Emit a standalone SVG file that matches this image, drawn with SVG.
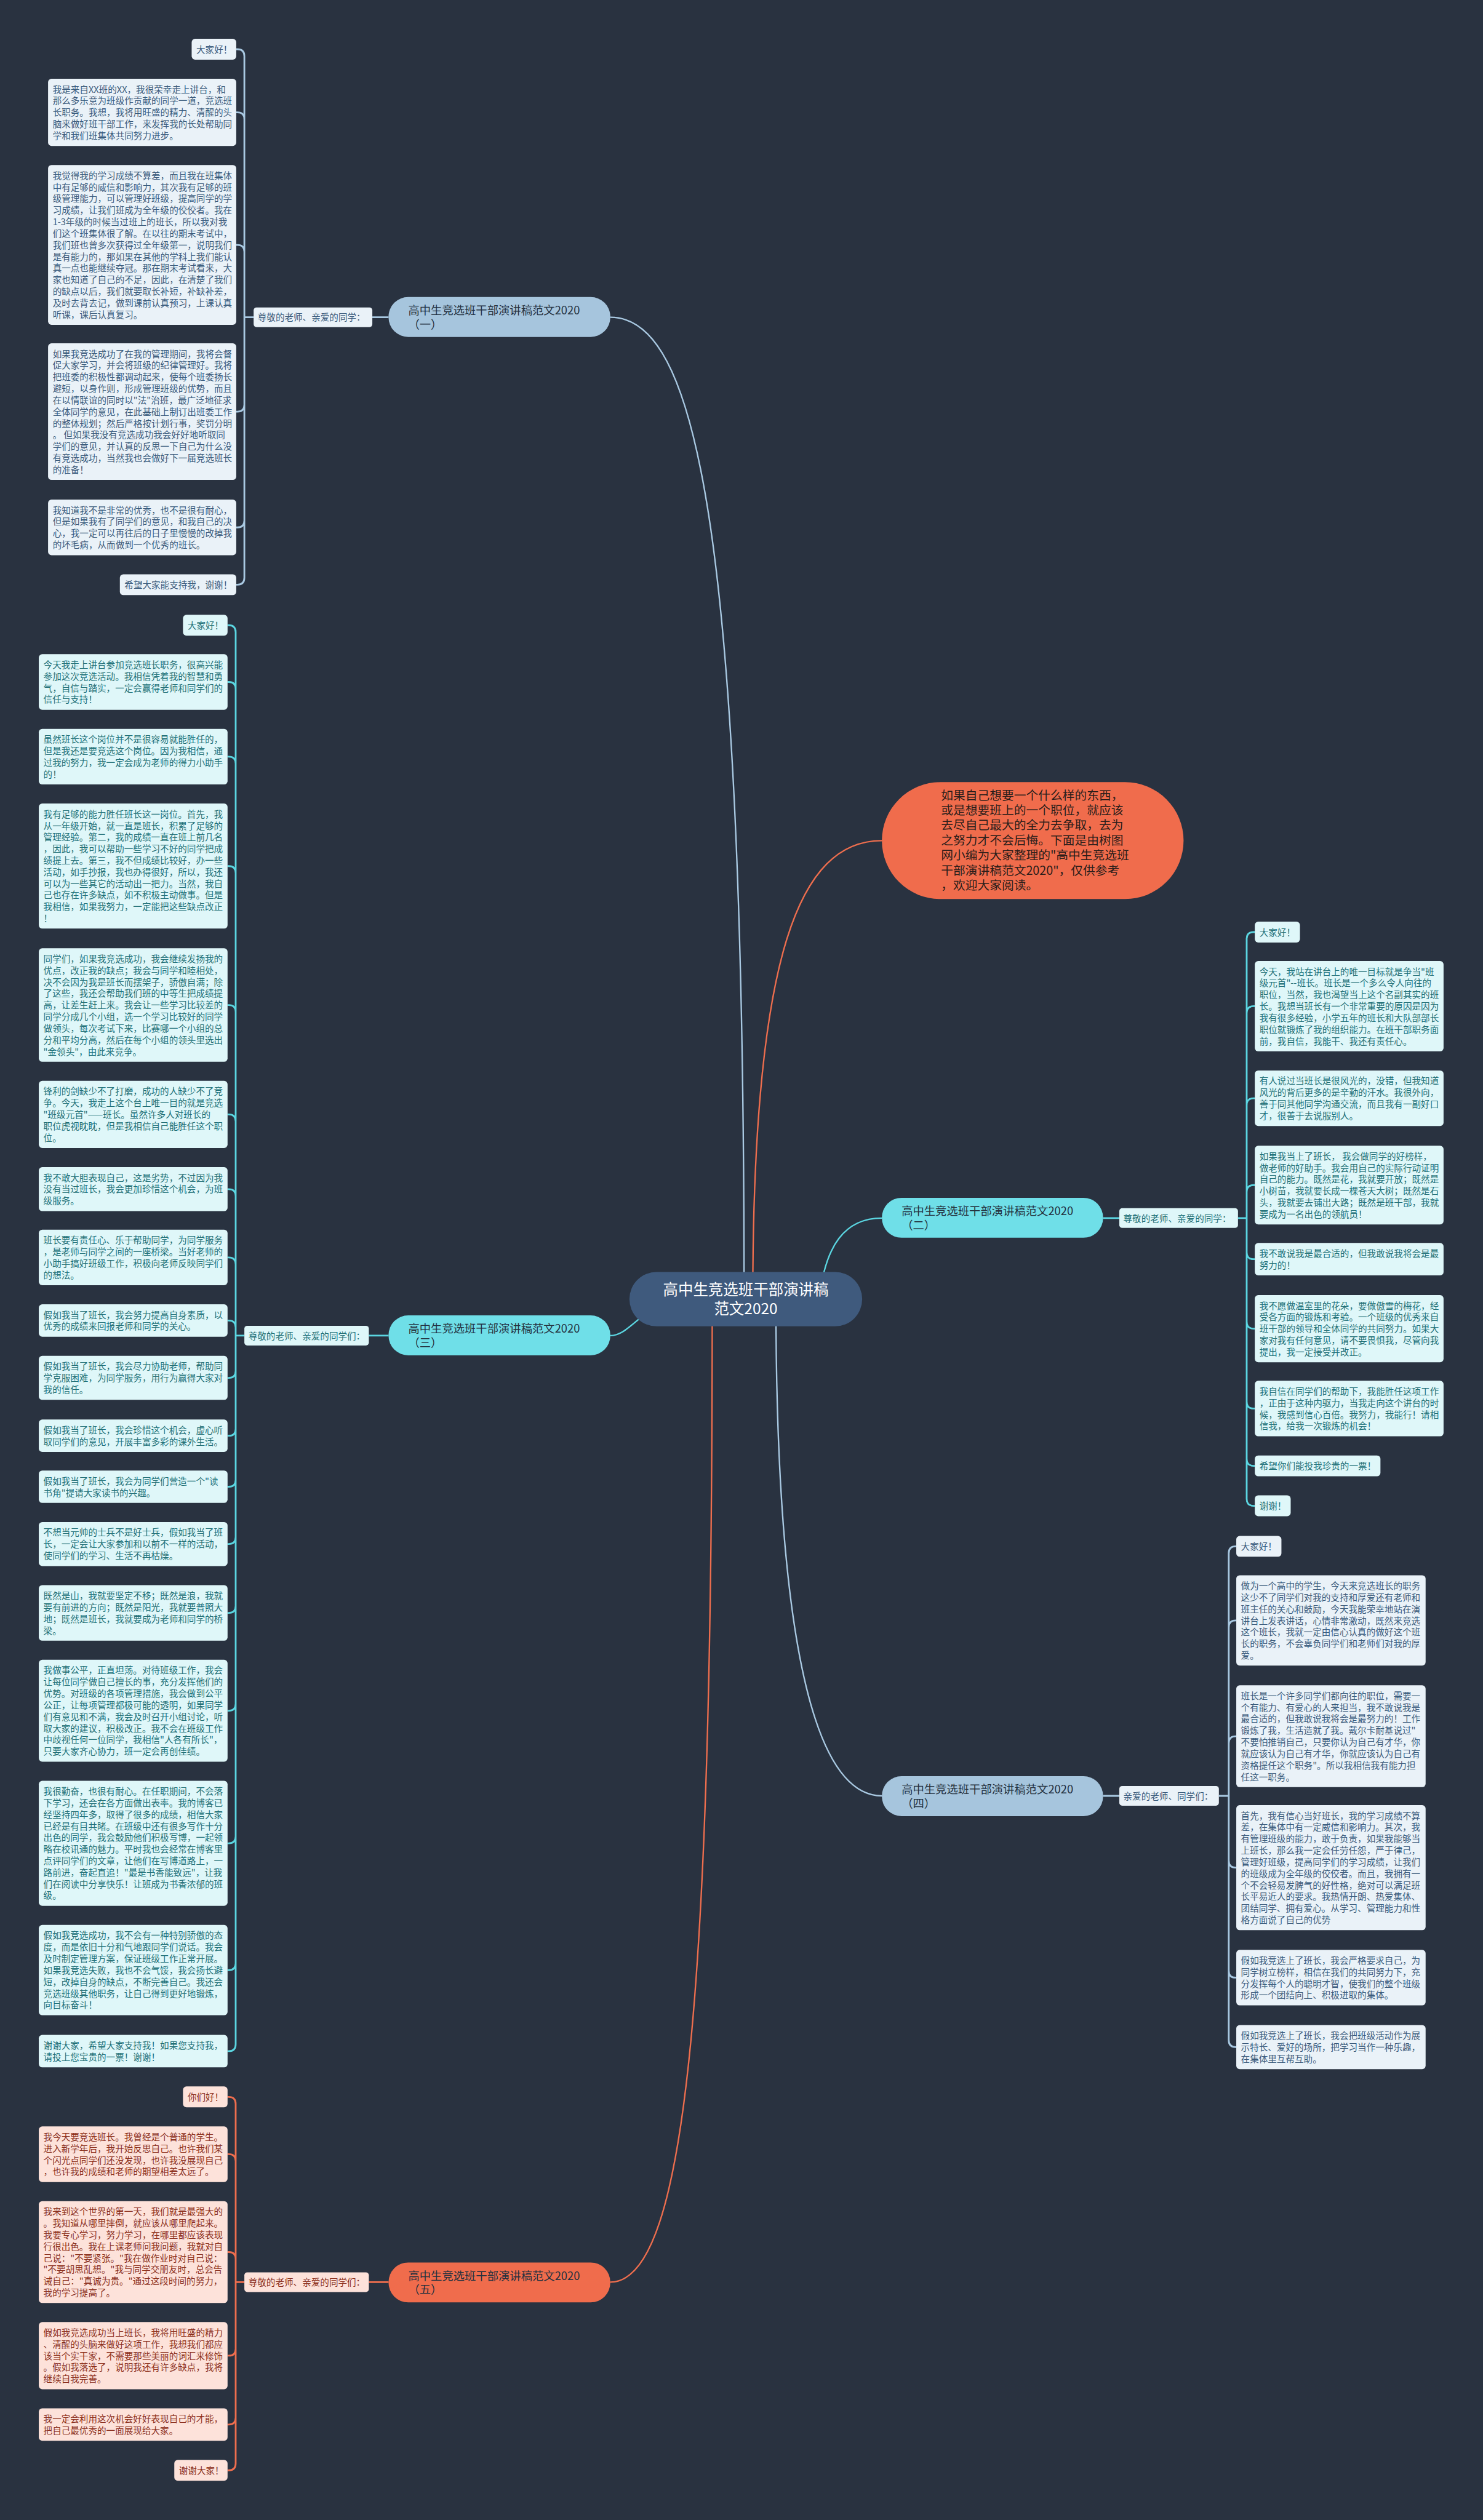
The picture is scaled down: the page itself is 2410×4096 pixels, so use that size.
<svg xmlns="http://www.w3.org/2000/svg" width="2410" height="4096" viewBox="0 0 2410 4096">
<style>
.t{font-family:"Noto Sans CJK SC","Noto Sans",sans-serif;font-size:15.5px}
.r1{fill:#eaf2f8}.r2{fill:#dff7f9}.r5{fill:#fde2da}
.t1{fill:#3a5b7c}.t2{fill:#217077}.t5{fill:#8b2f1c}
.c1{fill:none;stroke:#a9c9e2;stroke-width:3}
.c2{fill:none;stroke:#5bd6e1;stroke-width:3}
.c5{fill:none;stroke:#ee6e4e;stroke-width:3}
.m{fill:none;stroke-width:2.5}
.bn{font-family:"Noto Sans CJK SC","Noto Sans",sans-serif;font-size:19.5px;fill:#24313f}
</style>
<rect x="0" y="0" width="2410" height="4096" fill="#293240"/>
<g transform="scale(0.941)">
<g id="connectors">
<path class="m" stroke="#a9c9e2" d="M1054 548C1200 548 1285 900 1285 2244"/>
<path class="m" stroke="#ee6e4e" d="M1523 1452C1380 1452 1300 1650 1300 2244"/>
<path class="m" stroke="#5bd6e1" d="M1523 2104C1460 2104 1425 2150 1415 2244"/>
<path class="m" stroke="#5bd6e1" d="M1054 2307C1090 2307 1110 2250 1180 2244"/>
<path class="m" stroke="#a9c9e2" d="M1523 3102C1380 3102 1340 2700 1340 2244"/>
<path class="m" stroke="#ee6e4e" d="M1054 3942C1190 3942 1230 3400 1230 2244"/>
<path class="c1" d="M643 548H671M422 548H438M422 548V97Q422 85 410 85H408M422 548V206Q422 194 410 194H408M422 548V435Q422 423 410 423H408M422 548V699Q422 711 410 711H408M422 548V899Q422 911 410 911H408M422 548V998Q422 1010 410 1010H408"/>
<path class="c2" d="M637 2307H671M407 2307H422M407 2307V1092Q407 1080 395 1080H393M407 2307V1190Q407 1178 395 1178H393M407 2307V1319Q407 1307 395 1307H393M407 2307V1508Q407 1496 395 1496H393M407 2307V1748Q407 1736 395 1736H393M407 2307V1937Q407 1925 395 1925H393M407 2307V2066Q407 2054 395 2054H393M407 2307V2184Q407 2172 395 2172H393M407 2307V2293Q407 2281 395 2281H393M407 2307V2368Q407 2380 395 2380H393M407 2307V2468Q407 2480 395 2480H393M407 2307V2556Q407 2568 395 2568H393M407 2307V2655Q407 2667 395 2667H393M407 2307V2774Q407 2786 395 2786H393M407 2307V2943Q407 2955 395 2955H393M407 2307V3172Q407 3184 395 3184H393M407 2307V3391Q407 3403 395 3403H393M407 2307V3531Q407 3543 395 3543H393"/>
<path class="c5" d="M637 3942H671M407 3942H422M407 3942V3634Q407 3622 395 3622H393M407 3942V3733Q407 3721 395 3721H393M407 3942V3902Q407 3890 395 3890H393M407 3942V4057Q407 4069 395 4069H393M407 3942V4176Q407 4188 395 4188H393M407 3942V4255Q407 4267 395 4267H393"/>
<path class="c2" d="M1905 2104H1933M2138 2104H2153M2153 2104V1622Q2153 1610 2165 1610H2167M2153 2104V1750Q2153 1738 2165 1738H2167M2153 2104V1909Q2153 1897 2165 1897H2167M2153 2104V2059Q2153 2047 2165 2047H2167M2153 2104V2163Q2153 2175 2165 2175H2167M2153 2104V2283Q2153 2295 2165 2295H2167M2153 2104V2421Q2153 2433 2165 2433H2167M2153 2104V2520Q2153 2532 2165 2532H2167M2153 2104V2589Q2153 2601 2165 2601H2167"/>
<path class="c1" d="M1905 3102H1933M2105 3102H2122M2122 3102V2683Q2122 2671 2134 2671H2135M2122 3102V2811Q2122 2799 2134 2799H2135M2122 3102V3011Q2122 2999 2134 2999H2135M2122 3102V3214Q2122 3226 2134 3226H2135M2122 3102V3404Q2122 3416 2134 3416H2135M2122 3102V3524Q2122 3536 2134 3536H2135"/>
</g>

<g id="center"><rect x="1087" y="2197" width="402" height="94" rx="47" fill="#3f5a7d"/>
<text x="1288" y="2237" text-anchor="middle" font-family="Noto Sans CJK SC, Noto Sans, sans-serif" font-size="26" fill="#ffffff"><tspan x="1288">高中生竞选班干部演讲稿</tspan><tspan x="1288" dy="33">范文2020</tspan></text></g>

<g id="intro"><rect x="1523" y="1351" width="521" height="202" rx="101" fill="#f06c4c"/>
<text x="1625" y="1381" font-family="Noto Sans CJK SC, Noto Sans, sans-serif" font-size="21" fill="#2a1d1a"><tspan x="1625">如果自己想要一个什么样的东西，</tspan><tspan x="1625" dy="26">或是想要班上的一个职位，就应该</tspan><tspan x="1625" dy="26">去尽自己最大的全力去争取，去为</tspan><tspan x="1625" dy="26">之努力才不会后悔。下面是由树图</tspan><tspan x="1625" dy="26">网小编为大家整理的"高中生竞选班</tspan><tspan x="1625" dy="26">干部演讲稿范文2020"，仅供参考</tspan><tspan x="1625" dy="26">，欢迎大家阅读。</tspan></text></g>

<g id="node1"><rect x="671" y="513" width="383" height="69" rx="34" fill="#a6c5dd"/><text class="bn" x="705" y="543"><tspan x="705">高中生竞选班干部演讲稿范文2020</tspan><tspan x="705" dy="24">（一）</tspan></text></g>
<g id="node2"><rect x="1523" y="2069" width="382" height="69" rx="34" fill="#6fdfe8"/><text class="bn" x="1557" y="2099"><tspan x="1557">高中生竞选班干部演讲稿范文2020</tspan><tspan x="1557" dy="24">（二）</tspan></text></g>
<g id="node3"><rect x="671" y="2272" width="383" height="69" rx="34" fill="#6fdfe8"/><text class="bn" x="705" y="2302"><tspan x="705">高中生竞选班干部演讲稿范文2020</tspan><tspan x="705" dy="24">（三）</tspan></text></g>
<g id="node4"><rect x="1523" y="3068" width="382" height="69" rx="34" fill="#a6c5dd"/><text class="bn" x="1557" y="3098"><tspan x="1557">高中生竞选班干部演讲稿范文2020</tspan><tspan x="1557" dy="24">（四）</tspan></text></g>
<g id="node5"><rect x="671" y="3908" width="383" height="69" rx="34" fill="#f06c4c"/><text class="bn" x="705" y="3938"><tspan x="705">高中生竞选班干部演讲稿范文2020</tspan><tspan x="705" dy="24">（五）</tspan></text></g>

<g id="label1"><rect class="r1" x="438" y="531" width="205" height="34" rx="5"/><text class="t t1" x="445" y="554">尊敬的老师、亲爱的同学：</text></g>
<g id="label2"><rect class="r2" x="1933" y="2087" width="205" height="34" rx="5"/><text class="t t2" x="1940" y="2110">尊敬的老师、亲爱的同学：</text></g>
<g id="label3"><rect class="r2" x="422" y="2290" width="215" height="34" rx="5"/><text class="t t2" x="429" y="2313">尊敬的老师、亲爱的同学们：</text></g>
<g id="label4"><rect class="r1" x="1933" y="3085" width="172" height="34" rx="5"/><text class="t t1" x="1940" y="3108">亲爱的老师、同学们：</text></g>
<g id="label5"><rect class="r5" x="422" y="3925" width="215" height="34" rx="5"/><text class="t t5" x="429" y="3948">尊敬的老师、亲爱的同学们：</text></g>

<g id="b1-1"><rect class="r1" x="331" y="67" width="77" height="36" rx="6"/><text class="t t1" x="339" y="91">大家好！</text></g>
<g id="b1-2"><rect class="r1" x="83" y="136" width="325" height="116" rx="6"/><text class="t t1" x="91" y="160"><tspan x="91">我是来自XX班的XX，我很荣幸走上讲台，和</tspan><tspan x="91" dy="20">那么多乐意为班级作贡献的同学一道，竞选班</tspan><tspan x="91" dy="20">长职务。我想，我将用旺盛的精力、清醒的头</tspan><tspan x="91" dy="20">脑来做好班干部工作，来发挥我的长处帮助同</tspan><tspan x="91" dy="20">学和我们班集体共同努力进步。</tspan></text></g>
<g id="b1-3"><rect class="r1" x="83" y="285" width="325" height="276" rx="6"/><text class="t t1" x="91" y="309"><tspan x="91">我觉得我的学习成绩不算差，而且我在班集体</tspan><tspan x="91" dy="20">中有足够的威信和影响力，其次我有足够的班</tspan><tspan x="91" dy="20">级管理能力，可以管理好班级，提高同学的学</tspan><tspan x="91" dy="20">习成绩，让我们班成为全年级的佼佼者。我在</tspan><tspan x="91" dy="20">1-3年级的时候当过班上的班长，所以我对我</tspan><tspan x="91" dy="20">们这个班集体很了解。在以往的期末考试中，</tspan><tspan x="91" dy="20">我们班也曾多次获得过全年级第一，说明我们</tspan><tspan x="91" dy="20">是有能力的，那如果在其他的学科上我们能认</tspan><tspan x="91" dy="20">真一点也能继续夺冠。那在期末考试看来，大</tspan><tspan x="91" dy="20">家也知道了自己的不足，因此，在清楚了我们</tspan><tspan x="91" dy="20">的缺点以后，我们就要取长补短，补缺补差，</tspan><tspan x="91" dy="20">及时去背去记，做到课前认真预习，上课认真</tspan><tspan x="91" dy="20">听课，课后认真复习。</tspan></text></g>
<g id="b1-4"><rect class="r1" x="83" y="593" width="325" height="236" rx="6"/><text class="t t1" x="91" y="617"><tspan x="91">如果我竞选成功了在我的管理期间，我将会督</tspan><tspan x="91" dy="20">促大家学习，并会将班级的纪律管理好。我将</tspan><tspan x="91" dy="20">把班委的积极性都调动起来，使每个班委扬长</tspan><tspan x="91" dy="20">避短，以身作则，形成管理班级的优势，而且</tspan><tspan x="91" dy="20">在以情联谊的同时以"法"治班，最广泛地征求</tspan><tspan x="91" dy="20">全体同学的意见，在此基础上制订出班委工作</tspan><tspan x="91" dy="20">的整体规划；然后严格按计划行事，奖罚分明</tspan><tspan x="91" dy="20">。 但如果我没有竞选成功我会好好地听取同</tspan><tspan x="91" dy="20">学们的意见，并认真的反思一下自己为什么没</tspan><tspan x="91" dy="20">有竞选成功，当然我也会做好下一届竞选班长</tspan><tspan x="91" dy="20">的准备！</tspan></text></g>
<g id="b1-5"><rect class="r1" x="83" y="863" width="325" height="96" rx="6"/><text class="t t1" x="91" y="887"><tspan x="91">我知道我不是非常的优秀，也不是很有耐心，</tspan><tspan x="91" dy="20">但是如果我有了同学们的意见，和我自己的决</tspan><tspan x="91" dy="20">心，我一定可以再往后的日子里慢慢的改掉我</tspan><tspan x="91" dy="20">的坏毛病，从而做到一个优秀的班长。</tspan></text></g>
<g id="b1-6"><rect class="r1" x="207" y="992" width="201" height="36" rx="6"/><text class="t t1" x="215" y="1016">希望大家能支持我，谢谢！</text></g>

<g id="b2-1"><rect class="r2" x="2167" y="1592" width="78" height="36" rx="6"/><text class="t t2" x="2175" y="1616">大家好！</text></g>
<g id="b2-2"><rect class="r2" x="2167" y="1660" width="326" height="156" rx="6"/><text class="t t2" x="2175" y="1684"><tspan x="2175">今天，我站在讲台上的唯一目标就是争当"班</tspan><tspan x="2175" dy="20">级元首"--班长。班长是一个多么令人向往的</tspan><tspan x="2175" dy="20">职位，当然，我也渴望当上这个名副其实的班</tspan><tspan x="2175" dy="20">长。我想当班长有一个非常重要的原因是因为</tspan><tspan x="2175" dy="20">我有很多经验，小学五年的班长和大队部部长</tspan><tspan x="2175" dy="20">职位就锻炼了我的组织能力。在班干部职务面</tspan><tspan x="2175" dy="20">前，我自信，我能干、我还有责任心。</tspan></text></g>
<g id="b2-3"><rect class="r2" x="2167" y="1849" width="326" height="96" rx="6"/><text class="t t2" x="2175" y="1873"><tspan x="2175">有人说过当班长是很风光的，没错，但我知道</tspan><tspan x="2175" dy="20">风光的背后更多的是辛勤的汗水。我很外向，</tspan><tspan x="2175" dy="20">善于同其他同学沟通交流，而且我有一副好口</tspan><tspan x="2175" dy="20">才，很善于去说服别人。</tspan></text></g>
<g id="b2-4"><rect class="r2" x="2167" y="1979" width="326" height="136" rx="6"/><text class="t t2" x="2175" y="2003"><tspan x="2175">如果我当上了班长， 我会做同学的好榜样，</tspan><tspan x="2175" dy="20">做老师的好助手。我会用自己的实际行动证明</tspan><tspan x="2175" dy="20">自己的能力。既然是花，我就要开放；既然是</tspan><tspan x="2175" dy="20">小树苗，我就要长成一棵苍天大树；既然是石</tspan><tspan x="2175" dy="20">头，我就要去铺出大路；既然是班干部，我就</tspan><tspan x="2175" dy="20">要成为一名出色的领航员！</tspan></text></g>
<g id="b2-5"><rect class="r2" x="2167" y="2147" width="326" height="56" rx="6"/><text class="t t2" x="2175" y="2171"><tspan x="2175">我不敢说我是最合适的，但我敢说我将会是最</tspan><tspan x="2175" dy="20">努力的！</tspan></text></g>
<g id="b2-6"><rect class="r2" x="2167" y="2237" width="326" height="116" rx="6"/><text class="t t2" x="2175" y="2261"><tspan x="2175">我不愿做温室里的花朵，要做傲雪的梅花，经</tspan><tspan x="2175" dy="20">受各方面的锻炼和考验。一个班级的优秀来自</tspan><tspan x="2175" dy="20">班干部的领导和全体同学的共同努力。如果大</tspan><tspan x="2175" dy="20">家对我有任何意见，请不要畏惧我，尽管向我</tspan><tspan x="2175" dy="20">提出，我一定接受并改正。</tspan></text></g>
<g id="b2-7"><rect class="r2" x="2167" y="2385" width="326" height="96" rx="6"/><text class="t t2" x="2175" y="2409"><tspan x="2175">我自信在同学们的帮助下，我能胜任这项工作</tspan><tspan x="2175" dy="20">，正由于这种内驱力，当我走向这个讲台的时</tspan><tspan x="2175" dy="20">候，我感到信心百倍。我努力，我能行！请相</tspan><tspan x="2175" dy="20">信我，给我一次锻炼的机会！</tspan></text></g>
<g id="b2-8"><rect class="r2" x="2167" y="2514" width="217" height="36" rx="6"/><text class="t t2" x="2175" y="2538">希望你们能投我珍贵的一票！</text></g>
<g id="b2-9"><rect class="r2" x="2167" y="2583" width="62" height="36" rx="6"/><text class="t t2" x="2175" y="2607">谢谢！</text></g>

<g id="b3-1"><rect class="r2" x="316" y="1062" width="77" height="36" rx="6"/><text class="t t2" x="324" y="1086">大家好！</text></g>
<g id="b3-2"><rect class="r2" x="67" y="1130" width="326" height="96" rx="6"/><text class="t t2" x="75" y="1154"><tspan x="75">今天我走上讲台参加竞选班长职务，很高兴能</tspan><tspan x="75" dy="20">参加这次竞选活动。我相信凭着我的智慧和勇</tspan><tspan x="75" dy="20">气，自信与踏实，一定会赢得老师和同学们的</tspan><tspan x="75" dy="20">信任与支持！</tspan></text></g>
<g id="b3-3"><rect class="r2" x="67" y="1259" width="326" height="96" rx="6"/><text class="t t2" x="75" y="1283"><tspan x="75">虽然班长这个岗位并不是很容易就能胜任的，</tspan><tspan x="75" dy="20">但是我还是要竞选这个岗位。因为我相信，通</tspan><tspan x="75" dy="20">过我的努力，我一定会成为老师的得力小助手</tspan><tspan x="75" dy="20">的！</tspan></text></g>
<g id="b3-4"><rect class="r2" x="67" y="1388" width="326" height="216" rx="6"/><text class="t t2" x="75" y="1412"><tspan x="75">我有足够的能力胜任班长这一岗位。首先，我</tspan><tspan x="75" dy="20">从一年级开始，就一直是班长，积累了足够的</tspan><tspan x="75" dy="20">管理经验。第二，我的成绩一直在班上前几名</tspan><tspan x="75" dy="20">，因此，我可以帮助一些学习不好的同学把成</tspan><tspan x="75" dy="20">绩提上去。第三，我不但成绩比较好，办一些</tspan><tspan x="75" dy="20">活动，如手抄报，我也办得很好，所以，我还</tspan><tspan x="75" dy="20">可以为一些其它的活动出一把力。当然，我自</tspan><tspan x="75" dy="20">己也存在许多缺点，如不积极主动做事。但是</tspan><tspan x="75" dy="20">我相信，如果我努力，一定能把这些缺点改正</tspan><tspan x="75" dy="20">！</tspan></text></g>
<g id="b3-5"><rect class="r2" x="67" y="1638" width="326" height="196" rx="6"/><text class="t t2" x="75" y="1662"><tspan x="75">同学们，如果我竞选成功，我会继续发扬我的</tspan><tspan x="75" dy="20">优点，改正我的缺点；我会与同学和睦相处，</tspan><tspan x="75" dy="20">决不会因为我是班长而摆架子，骄傲自满；除</tspan><tspan x="75" dy="20">了这些，我还会帮助我们班的中等生把成绩提</tspan><tspan x="75" dy="20">高，让差生赶上来。我会让一些学习比较差的</tspan><tspan x="75" dy="20">同学分成几个小组，选一个学习比较好的同学</tspan><tspan x="75" dy="20">做领头，每次考试下来，比赛哪一个小组的总</tspan><tspan x="75" dy="20">分和平均分高，然后在每个小组的领头里选出</tspan><tspan x="75" dy="20">"金领头"，由此来竞争。</tspan></text></g>
<g id="b3-6"><rect class="r2" x="67" y="1867" width="326" height="116" rx="6"/><text class="t t2" x="75" y="1891"><tspan x="75">锋利的剑缺少不了打磨，成功的人缺少不了竞</tspan><tspan x="75" dy="20">争。今天，我走上这个台上唯一目的就是竞选</tspan><tspan x="75" dy="20">"班级元首"——班长。虽然许多人对班长的</tspan><tspan x="75" dy="20">职位虎视眈眈，但是我相信自己能胜任这个职</tspan><tspan x="75" dy="20">位。</tspan></text></g>
<g id="b3-7"><rect class="r2" x="67" y="2016" width="326" height="76" rx="6"/><text class="t t2" x="75" y="2040"><tspan x="75">我不敢大胆表现自己，这是劣势，不过因为我</tspan><tspan x="75" dy="20">没有当过班长，我会更加珍惜这个机会，为班</tspan><tspan x="75" dy="20">级服务。</tspan></text></g>
<g id="b3-8"><rect class="r2" x="67" y="2124" width="326" height="96" rx="6"/><text class="t t2" x="75" y="2148"><tspan x="75">班长要有责任心、乐于帮助同学，为同学服务</tspan><tspan x="75" dy="20">，是老师与同学之间的一座桥梁。当好老师的</tspan><tspan x="75" dy="20">小助手搞好班级工作，积极向老师反映同学们</tspan><tspan x="75" dy="20">的想法。</tspan></text></g>
<g id="b3-9"><rect class="r2" x="67" y="2253" width="326" height="56" rx="6"/><text class="t t2" x="75" y="2277"><tspan x="75">假如我当了班长，我会努力提高自身素质，以</tspan><tspan x="75" dy="20">优秀的成绩来回报老师和同学的关心。</tspan></text></g>
<g id="b3-10"><rect class="r2" x="67" y="2342" width="326" height="76" rx="6"/><text class="t t2" x="75" y="2366"><tspan x="75">假如我当了班长，我会尽力协助老师，帮助同</tspan><tspan x="75" dy="20">学克服困难，为同学服务，用行为赢得大家对</tspan><tspan x="75" dy="20">我的信任。</tspan></text></g>
<g id="b3-11"><rect class="r2" x="67" y="2452" width="326" height="56" rx="6"/><text class="t t2" x="75" y="2476"><tspan x="75">假如我当了班长，我会珍惜这个机会，虚心听</tspan><tspan x="75" dy="20">取同学们的意见，开展丰富多彩的课外生活。</tspan></text></g>
<g id="b3-12"><rect class="r2" x="67" y="2540" width="326" height="56" rx="6"/><text class="t t2" x="75" y="2564"><tspan x="75">假如我当了班长，我会为同学们营造一个"读</tspan><tspan x="75" dy="20">书角"提请大家读书的兴趣。</tspan></text></g>
<g id="b3-13"><rect class="r2" x="67" y="2629" width="326" height="76" rx="6"/><text class="t t2" x="75" y="2653"><tspan x="75">不想当元帅的士兵不是好士兵，假如我当了班</tspan><tspan x="75" dy="20">长，一定会让大家参加和以前不一样的活动，</tspan><tspan x="75" dy="20">使同学们的学习、生活不再枯燥。</tspan></text></g>
<g id="b3-14"><rect class="r2" x="67" y="2738" width="326" height="96" rx="6"/><text class="t t2" x="75" y="2762"><tspan x="75">既然是山，我就要坚定不移；既然是浪，我就</tspan><tspan x="75" dy="20">要有前进的方向；既然是阳光，我就要普照大</tspan><tspan x="75" dy="20">地；既然是班长，我就要成为老师和同学的桥</tspan><tspan x="75" dy="20">梁。</tspan></text></g>
<g id="b3-15"><rect class="r2" x="67" y="2867" width="326" height="176" rx="6"/><text class="t t2" x="75" y="2891"><tspan x="75">我做事公平，正直坦荡。对待班级工作，我会</tspan><tspan x="75" dy="20">让每位同学做自己擅长的事，充分发挥他们的</tspan><tspan x="75" dy="20">优势。对班级的各项管理措施，我会做到公平</tspan><tspan x="75" dy="20">公正，让每项管理都极可能的透明，如果同学</tspan><tspan x="75" dy="20">们有意见和不满，我会及时召开小组讨论，听</tspan><tspan x="75" dy="20">取大家的建议，积极改正。我不会在班级工作</tspan><tspan x="75" dy="20">中歧视任何一位同学，我相信"人各有所长"，</tspan><tspan x="75" dy="20">只要大家齐心协力，班一定会再创佳绩。</tspan></text></g>
<g id="b3-16"><rect class="r2" x="67" y="3076" width="326" height="216" rx="6"/><text class="t t2" x="75" y="3100"><tspan x="75">我很勤奋，也很有耐心。在任职期间，不会落</tspan><tspan x="75" dy="20">下学习，还会在各方面做出表率。我的博客已</tspan><tspan x="75" dy="20">经坚持四年多，取得了很多的成绩，相信大家</tspan><tspan x="75" dy="20">已经是有目共睹。在班级中还有很多写作十分</tspan><tspan x="75" dy="20">出色的同学，我会鼓励他们积极写博，一起领</tspan><tspan x="75" dy="20">略在校讯通的魅力。平时我也会经常在博客里</tspan><tspan x="75" dy="20">点评同学们的文章，让他们在写博道路上，一</tspan><tspan x="75" dy="20">路前进，奋起直追！"最是书香能致远"，让我</tspan><tspan x="75" dy="20">们在阅读中分享快乐！让班成为书香浓郁的班</tspan><tspan x="75" dy="20">级。</tspan></text></g>
<g id="b3-17"><rect class="r2" x="67" y="3325" width="326" height="156" rx="6"/><text class="t t2" x="75" y="3349"><tspan x="75">假如我竞选成功，我不会有一种特别骄傲的态</tspan><tspan x="75" dy="20">度，而是依旧十分和气地跟同学们说话。我会</tspan><tspan x="75" dy="20">及时制定管理方案，保证班级工作正常开展。</tspan><tspan x="75" dy="20">如果我竞选失败，我也不会气馁，我会扬长避</tspan><tspan x="75" dy="20">短，改掉自身的缺点，不断完善自己。我还会</tspan><tspan x="75" dy="20">竞选班级其他职务，让自己得到更好地锻炼，</tspan><tspan x="75" dy="20">向目标奋斗！</tspan></text></g>
<g id="b3-18"><rect class="r2" x="67" y="3515" width="326" height="56" rx="6"/><text class="t t2" x="75" y="3539"><tspan x="75">谢谢大家，希望大家支持我！如果您支持我，</tspan><tspan x="75" dy="20">请投上您宝贵的一票！谢谢！</tspan></text></g>

<g id="b4-1"><rect class="r1" x="2135" y="2653" width="78" height="36" rx="6"/><text class="t t1" x="2143" y="2677">大家好！</text></g>
<g id="b4-2"><rect class="r1" x="2135" y="2721" width="327" height="156" rx="6"/><text class="t t1" x="2143" y="2745"><tspan x="2143">做为一个高中的学生，今天来竞选班长的职务</tspan><tspan x="2143" dy="20">这少不了同学们对我的支持和厚爱还有老师和</tspan><tspan x="2143" dy="20">班主任的关心和鼓励，今天我能荣幸地站在演</tspan><tspan x="2143" dy="20">讲台上发表讲话，心情非常激动，既然来竞选</tspan><tspan x="2143" dy="20">这个班长，我就一定由信心认真的做好这个班</tspan><tspan x="2143" dy="20">长的职务，不会辜负同学们和老师们对我的厚</tspan><tspan x="2143" dy="20">爱。</tspan></text></g>
<g id="b4-3"><rect class="r1" x="2135" y="2911" width="327" height="176" rx="6"/><text class="t t1" x="2143" y="2935"><tspan x="2143">班长是一个许多同学们都向往的职位，需要一</tspan><tspan x="2143" dy="20">个有能力、有爱心的人来担当，我不敢说我是</tspan><tspan x="2143" dy="20">最合适的，但我敢说我将会是最努力的！工作</tspan><tspan x="2143" dy="20">锻炼了我，生活造就了我。戴尔卡耐基说过"</tspan><tspan x="2143" dy="20">不要怕推销自己，只要你认为自己有才华，你</tspan><tspan x="2143" dy="20">就应该认为自己有才华，你就应该认为自己有</tspan><tspan x="2143" dy="20">资格提任这个职务"。所以我相信我有能力担</tspan><tspan x="2143" dy="20">任这一职务。</tspan></text></g>
<g id="b4-4"><rect class="r1" x="2135" y="3118" width="327" height="216" rx="6"/><text class="t t1" x="2143" y="3142"><tspan x="2143">首先，我有信心当好班长，我的学习成绩不算</tspan><tspan x="2143" dy="20">差，在集体中有一定威信和影响力。其次，我</tspan><tspan x="2143" dy="20">有管理班级的能力，敢于负责，如果我能够当</tspan><tspan x="2143" dy="20">上班长，那么我一定会任劳任怨，严于律己，</tspan><tspan x="2143" dy="20">管理好班级，提高同学们的学习成绩，让我们</tspan><tspan x="2143" dy="20">的班级成为全年级的佼佼者。而且，我拥有一</tspan><tspan x="2143" dy="20">个不会轻易发脾气的好性格，绝对可以满足班</tspan><tspan x="2143" dy="20">长平易近人的要求。我热情开朗、热爱集体、</tspan><tspan x="2143" dy="20">团结同学、拥有爱心。从学习、管理能力和性</tspan><tspan x="2143" dy="20">格方面说了自己的优势</tspan></text></g>
<g id="b4-5"><rect class="r1" x="2135" y="3368" width="327" height="96" rx="6"/><text class="t t1" x="2143" y="3392"><tspan x="2143">假如我竞选上了班长，我会严格要求自己，为</tspan><tspan x="2143" dy="20">同学树立榜样，相信在我们的共同努力下，充</tspan><tspan x="2143" dy="20">分发挥每个人的聪明才智，使我们的整个班级</tspan><tspan x="2143" dy="20">形成一个团结向上、积极进取的集体。</tspan></text></g>
<g id="b4-6"><rect class="r1" x="2135" y="3498" width="327" height="76" rx="6"/><text class="t t1" x="2143" y="3522"><tspan x="2143">假如我竞选上了班长，我会把班级活动作为展</tspan><tspan x="2143" dy="20">示特长、爱好的场所，把学习当作一种乐趣，</tspan><tspan x="2143" dy="20">在集体里互帮互助。</tspan></text></g>

<g id="b5-1"><rect class="r5" x="316" y="3604" width="77" height="36" rx="6"/><text class="t t5" x="324" y="3628">你们好！</text></g>
<g id="b5-2"><rect class="r5" x="67" y="3673" width="326" height="96" rx="6"/><text class="t t5" x="75" y="3697"><tspan x="75">我今天要竞选班长。我曾经是个普通的学生。</tspan><tspan x="75" dy="20">进入新学年后，我开始反思自己。也许我们某</tspan><tspan x="75" dy="20">个闪光点同学们还没发现，也许我没展现自己</tspan><tspan x="75" dy="20">，也许我的成绩和老师的期望相差太远了。</tspan></text></g>
<g id="b5-3"><rect class="r5" x="67" y="3802" width="326" height="176" rx="6"/><text class="t t5" x="75" y="3826"><tspan x="75">我来到这个世界的第一天，我们就是最强大的</tspan><tspan x="75" dy="20">。我知道从哪里摔倒，就应该从哪里爬起来。</tspan><tspan x="75" dy="20">我要专心学习，努力学习，在哪里都应该表现</tspan><tspan x="75" dy="20">行很出色。我在上课老师问我问题，我就对自</tspan><tspan x="75" dy="20">己说："不要紧张。"我在做作业时对自己说：</tspan><tspan x="75" dy="20">"不要胡思乱想。"我与同学交朋友时，总会告</tspan><tspan x="75" dy="20">诫自己："真诚为贵。"通过这段时间的努力，</tspan><tspan x="75" dy="20">我的学习提高了。</tspan></text></g>
<g id="b5-4"><rect class="r5" x="67" y="4011" width="326" height="116" rx="6"/><text class="t t5" x="75" y="4035"><tspan x="75">假如我竞选成功当上班长，我将用旺盛的精力</tspan><tspan x="75" dy="20">、清醒的头脑来做好这项工作，我想我们都应</tspan><tspan x="75" dy="20">该当个实干家，不需要那些美丽的词汇来修饰</tspan><tspan x="75" dy="20">。假如我落选了，说明我还有许多缺点，我将</tspan><tspan x="75" dy="20">继续自我完善。</tspan></text></g>
<g id="b5-5"><rect class="r5" x="67" y="4160" width="326" height="56" rx="6"/><text class="t t5" x="75" y="4184"><tspan x="75">我一定会利用这次机会好好表现自己的才能，</tspan><tspan x="75" dy="20">把自己最优秀的一面展现给大家。</tspan></text></g>
<g id="b5-6"><rect class="r5" x="301" y="4249" width="92" height="36" rx="6"/><text class="t t5" x="309" y="4273">谢谢大家！</text></g>
</g>
</svg>
